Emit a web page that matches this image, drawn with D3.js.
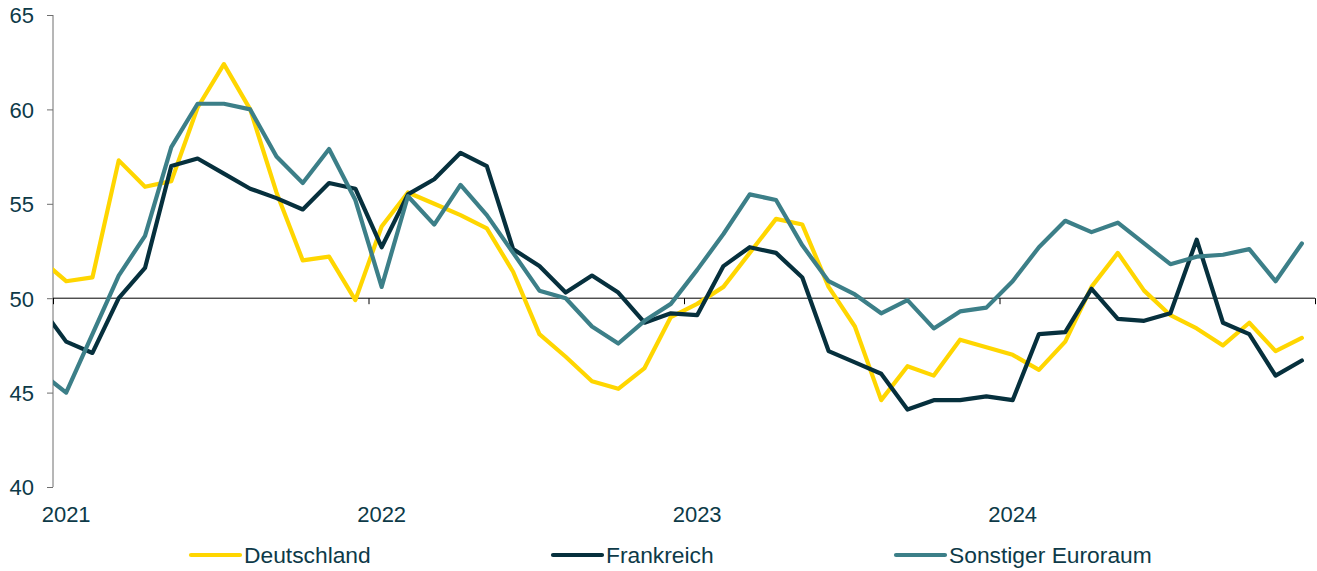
<!DOCTYPE html>
<html>
<head>
<meta charset="utf-8">
<script src="https://cdn.jsdelivr.net/npm/d3@7"></script>
<style>
  body { margin: 0; background: #fff; }
  svg text { font-family: "Liberation Sans", Arial, sans-serif; fill: #0d3a48; }
</style>
</head>
<body>
<svg id="chart" width="1317" height="571"></svg>
<script>
// months: Dec 2020 (cut off at the left edge) through Dec 2024
var months = d3.timeMonth.range(new Date(2020, 11, 1), new Date(2025, 0, 1));
var yearLabels = ["2021", "2022", "2023", "2024"];
var yTicks = [40, 45, 50, 55, 60, 65];

var deutschland = [52.1,
    50.9, 51.1, 57.3, 55.9, 56.2, 60.1, 62.4, 60.0, 55.6, 52.0, 52.2, 49.9,
    53.8, 55.6, 55.0, 54.4, 53.7, 51.4, 48.1, 46.9, 45.6, 45.2, 46.3, 49.0,
    49.7, 50.6, 52.4, 54.2, 53.9, 50.6, 48.5, 44.6, 46.4, 45.9, 47.8, 47.4,
    47.0, 46.2, 47.7, 50.6, 52.4, 50.4, 49.1, 48.4, 47.5, 48.7, 47.2, 47.9];
var frankreich = [49.6,
    47.7, 47.1, 50.0, 51.6, 57.0, 57.4, 56.6, 55.8, 55.3, 54.7, 56.1, 55.8,
    52.7, 55.5, 56.3, 57.7, 57.0, 52.6, 51.7, 50.3, 51.2, 50.3, 48.7, 49.2,
    49.1, 51.7, 52.7, 52.4, 51.1, 47.2, 46.6, 46.0, 44.1, 44.6, 44.6, 44.8,
    44.6, 48.1, 48.2, 50.5, 48.9, 48.8, 49.2, 53.1, 48.7, 48.1, 45.9, 46.7];
var sonstiger = [46.1,
    45.0, 48.1, 51.2, 53.3, 58.0, 60.3, 60.3, 60.0, 57.5, 56.1, 57.9, 55.2,
    50.6, 55.4, 53.9, 56.0, 54.4, 52.4, 50.4, 50.0, 48.5, 47.6, 48.8, 49.7,
    51.5, 53.4, 55.5, 55.2, 52.8, 50.9, 50.2, 49.2, 49.9, 48.4, 49.3, 49.5,
    50.9, 52.7, 54.1, 53.5, 54.0, 52.9, 51.8, 52.2, 52.3, 52.6, 50.9, 52.9];

var seriesNames = ["Deutschland", "Frankreich", "Sonstiger Euroraum"];
var seriesColors = ["#ffd600", "#06303d", "#3c7f88"];
var seriesValues = [deutschland, frankreich, sonstiger];

var svg = d3.select("#chart");
var plotLeft = 53, plotRight = 1315, plotTop = 15, plotBottom = 487;

// month index -> x, point sits in the middle of its month
var x = d3.scaleLinear().domain([0, 48]).range([plotLeft, plotRight]);
var y = d3.scaleLinear().domain([40, 65]).range([plotBottom, plotTop]);

svg.append("defs").append("clipPath").attr("id", "plotClip")
    .append("rect")
    .attr("x", plotLeft).attr("y", 0)
    .attr("width", plotRight - plotLeft + 10).attr("height", 571);

// left axis
var yAxis = svg.append("g")
    .attr("transform", "translate(" + plotLeft + ",0)")
    .call(d3.axisLeft(y).tickValues(yTicks).tickSize(6).tickPadding(13).tickFormat(d3.format("d")));
yAxis.select(".domain").attr("stroke", "#6e6e6e").attr("d", "M0," + plotTop + "V" + plotBottom);
yAxis.selectAll(".tick line").attr("stroke", "#6e6e6e");
yAxis.selectAll(".tick text").style("font-size", "22px").attr("dy", "0.36em");

// horizontal axis along 50
var xAxis = svg.append("g")
    .attr("transform", "translate(0," + y(50) + ")")
    .call(d3.axisBottom(x).tickValues([0, 12, 24, 36, 48]).tickSize(6).tickFormat(""));
xAxis.select(".domain").attr("stroke", "#000").attr("d", "M" + plotLeft + ",0H" + plotRight);
xAxis.selectAll(".tick line").attr("stroke", "#000");

// year labels under January
svg.append("g").selectAll("text")
    .data(yearLabels)
    .enter().append("text")
    .attr("x", function(d, i) { return x(i * 12 + 0.5); })
    .attr("y", 522)
    .attr("text-anchor", "middle")
    .style("font-size", "22px")
    .text(function(d) { return d; });

// lines
var line = d3.line()
    .x(function(d, i) { return x(i - 0.5); })
    .y(function(d) { return y(d); });

var lines = svg.append("g").attr("clip-path", "url(#plotClip)");
seriesValues.forEach(function(vals, k) {
    lines.append("path")
        .datum(vals)
        .attr("fill", "none")
        .attr("stroke", seriesColors[k])
        .attr("stroke-width", 4.2)
        .attr("stroke-linejoin", "round")
        .attr("stroke-linecap", "round")
        .attr("d", line);
});

// legend
var legendX = [191, 553, 896];
var legend = svg.append("g");
seriesNames.forEach(function(name, k) {
    var g = legend.append("g").attr("transform", "translate(" + legendX[k] + ",555)");
    g.append("line")
        .attr("x1", 0).attr("x2", 49)
        .attr("stroke", seriesColors[k])
        .attr("stroke-width", 4.2)
        .attr("stroke-linecap", "round");
    g.append("text")
        .attr("x", 53).attr("y", 8)
        .style("font-size", "22.8px")
        .text(name);
});
</script>
</body>
</html>
